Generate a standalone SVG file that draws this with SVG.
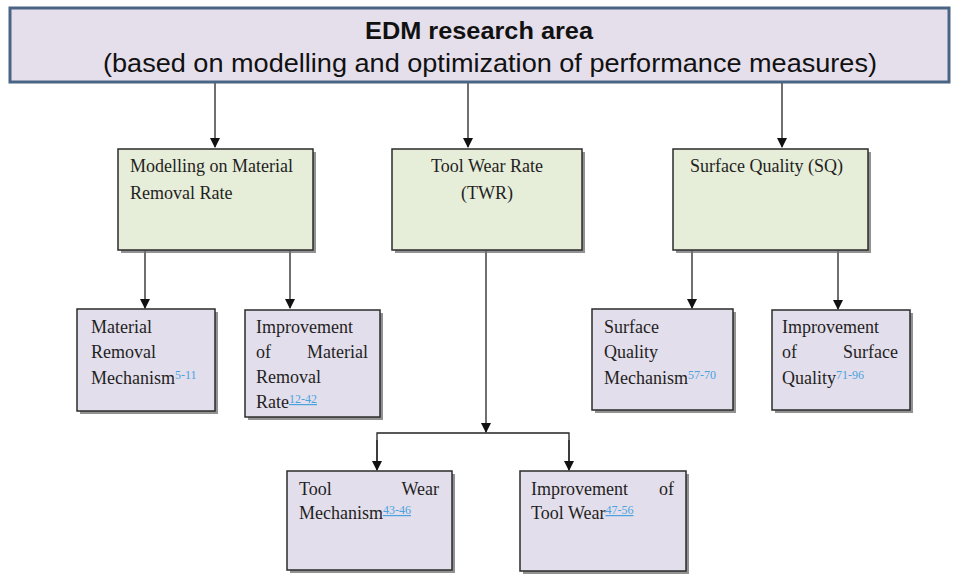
<svg xmlns="http://www.w3.org/2000/svg" width="957" height="575" viewBox="0 0 957 575">
<style>
.bg{fill:#ffffff}
.top{fill:#e5dfec;stroke:#4a6584;stroke-width:3}
.green{fill:#e6edd8;stroke:#2b2b2b;stroke-width:1.5}
.purple{fill:#e3deeb;stroke:#2b2b2b;stroke-width:1.5}
.shadow{fill:#6e6e6e;opacity:0.75}
.t{font-family:"Liberation Serif","Times New Roman",serif;font-size:18px;fill:#1f1f1f}
.sup{font-family:"Liberation Serif","Times New Roman",serif;font-size:12px;fill:#4aa3df}
.u{text-decoration:underline}
.h1{font-family:"Liberation Sans",Arial,sans-serif;font-size:24px;font-weight:bold;fill:#111}
.h2{font-family:"Liberation Sans",Arial,sans-serif;font-size:25px;fill:#111}
.c{fill:none;stroke:#222;stroke-width:1.3}
</style>
<defs>
<marker id="ah" markerWidth="10" markerHeight="10" refX="9" refY="5" orient="auto" markerUnits="userSpaceOnUse">
<path d="M0,0 L10,5 L0,10 z" fill="#111"/>
</marker>
</defs>
<rect class="bg" x="0" y="0" width="957" height="575"/>

<g id="connectors">
<line class="c" x1="215" y1="83" x2="215" y2="147" marker-end="url(#ah)"/>
<line class="c" x1="468" y1="83" x2="468" y2="147" marker-end="url(#ah)"/>
<line class="c" x1="782" y1="83" x2="782" y2="147" marker-end="url(#ah)"/>
<line class="c" x1="145" y1="251" x2="145" y2="308" marker-end="url(#ah)"/>
<line class="c" x1="290" y1="251" x2="290" y2="308" marker-end="url(#ah)"/>
<line class="c" x1="692" y1="251" x2="692" y2="308" marker-end="url(#ah)"/>
<line class="c" x1="838" y1="251" x2="838" y2="309" marker-end="url(#ah)"/>
<line class="c" x1="486" y1="251" x2="486" y2="432" marker-end="url(#ah)"/>
<polyline class="c" points="377,469 377,433 569,433 569,469" />
<line class="c" x1="377" y1="440" x2="377" y2="470" marker-end="url(#ah)"/>
<line class="c" x1="569" y1="440" x2="569" y2="470" marker-end="url(#ah)"/>
</g>

<g id="edm-research-area">
<rect class="top" x="10" y="8" width="939" height="74"/>
<text class="h1" x="479" y="39" text-anchor="middle" textLength="228" lengthAdjust="spacingAndGlyphs">EDM research area</text>
<text class="h2" x="490" y="72" text-anchor="middle" textLength="774" lengthAdjust="spacingAndGlyphs">(based on modelling and optimization of performance measures)</text>
</g>

<g id="modelling-mrr">
<rect class="shadow" x="121" y="152" width="195" height="101"/>
<rect class="green" x="118" y="149" width="195" height="101"/>
<text class="t" x="130" y="172">Modelling on Material</text>
<text class="t" x="130" y="199">Removal Rate</text>
</g>

<g id="tool-wear-rate">
<rect class="shadow" x="395" y="152" width="190" height="101"/>
<rect class="green" x="392" y="149" width="190" height="101"/>
<text class="t" x="487" y="172" text-anchor="middle">Tool Wear Rate</text>
<text class="t" x="487" y="199" text-anchor="middle">(TWR)</text>
</g>

<g id="surface-quality">
<rect class="shadow" x="676" y="152" width="195" height="101"/>
<rect class="green" x="673" y="149" width="195" height="101"/>
<text class="t" x="690" y="172">Surface Quality (SQ)</text>
</g>

<g id="material-removal-mechanism">
<rect class="shadow" x="80" y="312" width="138" height="102"/>
<rect class="purple" x="77" y="309" width="138" height="102"/>
<text class="t" x="91" y="333">Material</text>
<text class="t" x="91" y="358">Removal</text>
<text class="t" x="91" y="384">Mechanism<tspan class="sup" dy="-5">5-11</tspan></text>
</g>

<g id="improvement-mrr">
<rect class="shadow" x="248" y="313" width="135" height="107"/>
<rect class="purple" x="245" y="310" width="135" height="107"/>
<text class="t" x="256" y="333">Improvement</text>
<text class="t" x="256" y="358">of</text>
<text class="t" x="368" y="358" text-anchor="end">Material</text>
<text class="t" x="256" y="383">Removal</text>
<text class="t" x="256" y="408">Rate<tspan class="sup u" dy="-5">12-42</tspan></text>
</g>

<g id="surface-quality-mechanism">
<rect class="shadow" x="595" y="312" width="141" height="101"/>
<rect class="purple" x="592" y="309" width="141" height="101"/>
<text class="t" x="604" y="333">Surface</text>
<text class="t" x="604" y="358">Quality</text>
<text class="t" x="604" y="384">Mechanism<tspan class="sup" dy="-5">57-70</tspan></text>
</g>

<g id="improvement-sq">
<rect class="shadow" x="775" y="313" width="138" height="100"/>
<rect class="purple" x="772" y="310" width="138" height="100"/>
<text class="t" x="782" y="333">Improvement</text>
<text class="t" x="782" y="358">of</text>
<text class="t" x="898" y="358" text-anchor="end">Surface</text>
<text class="t" x="782" y="384">Quality<tspan class="sup" dy="-5">71-96</tspan></text>
</g>

<g id="tool-wear-mechanism">
<rect class="shadow" x="290" y="474" width="165" height="99"/>
<rect class="purple" x="287" y="471" width="165" height="99"/>
<text class="t" x="299" y="495">Tool</text>
<text class="t" x="439" y="495" text-anchor="end">Wear</text>
<text class="t" x="299" y="519">Mechanism<tspan class="sup u" dy="-5">43-46</tspan></text>
</g>

<g id="improvement-tool-wear">
<rect class="shadow" x="523" y="474" width="166" height="100"/>
<rect class="purple" x="520" y="471" width="166" height="100"/>
<text class="t" x="531" y="495">Improvement</text>
<text class="t" x="674" y="495" text-anchor="end">of</text>
<text class="t" x="531" y="519">Tool Wear<tspan class="sup u" dy="-5">47-56</tspan></text>
</g>
</svg>
